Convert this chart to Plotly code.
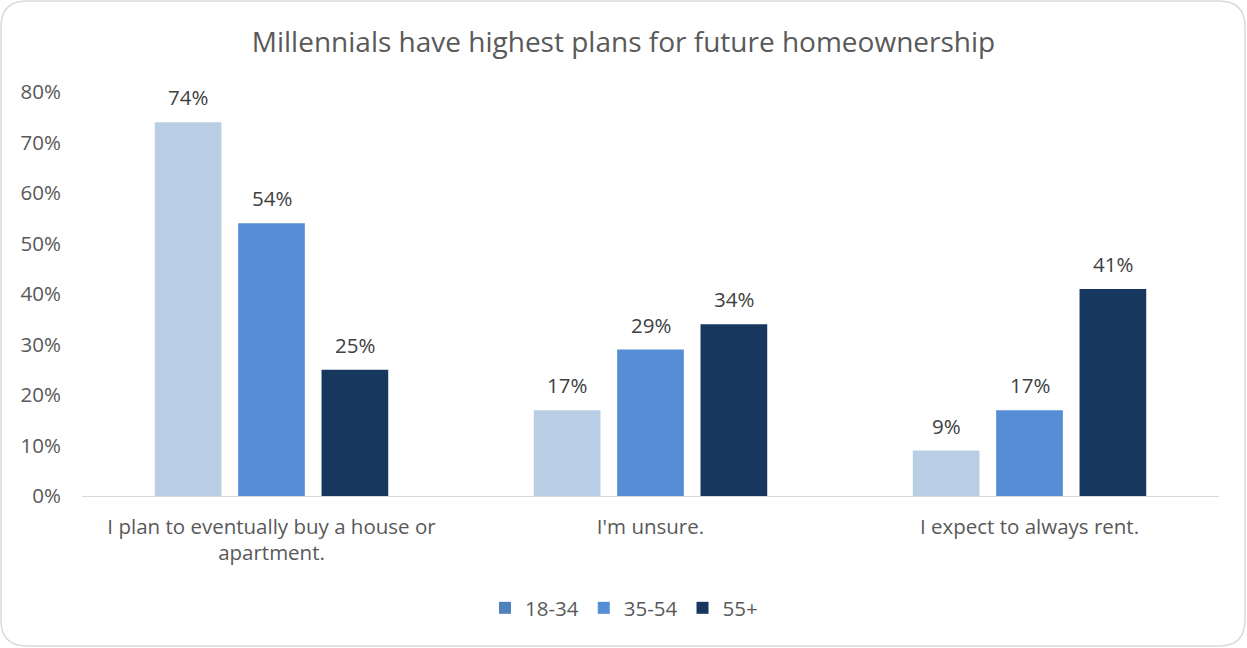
import plotly.graph_objects as go

categories = ["I plan to eventually buy a house or<br>apartment.", "I'm unsure.", "I expect to always rent."]
series_names = ["18-34", "35-54", "55+"]
values_18_34 = [74, 17, 9]
values_35_54 = [54, 29, 17]
values_55_plus = [25, 34, 41]
y_ticks = [0, 10, 20, 30, 40, 50, 60, 70, 80]
y_tick_labels = ["0%", "10%", "20%", "30%", "40%", "50%", "60%", "70%", "80%"]

bar_colors = ["#b9cde5", "#558ed5", "#17375e"]
legend_colors = ["#4f81bd", "#558ed5", "#17375e"]
FONT = "'Open Sans', sans-serif"
TXT = 20.5

W, H = 1247, 648
ml, mr, mt, mb = 82, 28, 92, 152
pw, ph = W - ml - mr, H - mt - mb
bargap, bargroupgap = 0.34, 0.2
slot_px = pw / len(categories) * (1 - bargap) / len(series_names)

fig = go.Figure()
all_series = [values_18_34, values_35_54, values_55_plus]
for i, (name, vals, color) in enumerate(zip(series_names, all_series, bar_colors)):
    fig.add_trace(go.Bar(
        x=categories, y=vals, name=name, showlegend=False,
        marker=dict(color=color, line=dict(width=0)), hoverinfo="skip",
    ))
    # value labels above each bar
    for cat, v in zip(categories, vals):
        fig.add_annotation(
            x=cat, y=v, text=f"{v}%", showarrow=False,
            xshift=(i - 1) * slot_px, yshift=25, yanchor="middle",
            font=dict(size=TXT, color="#404040", family=FONT),
        )

# Legend entries on a hidden overlay axis so they do not affect bar grouping
for name, color in zip(series_names, legend_colors):
    fig.add_trace(go.Bar(
        x=[None], y=[None], name=name, xaxis="x2", yaxis="y2",
        marker=dict(color=color, line=dict(width=0)), hoverinfo="skip",
    ))


def px_to_paper(x, y):
    return (x - ml) / pw, (H - mb - y) / ph


def P(x, y):
    px, py = px_to_paper(x, y)
    return f"{px:.5f},{py:.5f}"


# Rounded outer border
r = 26
x0, y0, x1, y1 = 1, 1, W - 2, H - 2
path = (f"M {P(x0 + r, y0)} L {P(x1 - r, y0)} Q {P(x1, y0)} {P(x1, y0 + r)} "
        f"L {P(x1, y1 - r)} Q {P(x1, y1)} {P(x1 - r, y1)} "
        f"L {P(x0 + r, y1)} Q {P(x0, y1)} {P(x0, y1 - r)} "
        f"L {P(x0, y0 + r)} Q {P(x0, y0)} {P(x0 + r, y0)} Z")
fig.add_shape(type="path", path=path, xref="paper", yref="paper",
              line=dict(color="#d9d9d9", width=1.5), layer="below")

fig.update_layout(
    width=W, height=H,
    margin=dict(l=ml, r=mr, t=mt, b=mb),
    paper_bgcolor="white", plot_bgcolor="white",
    font=dict(family=FONT, color="#595959", size=TXT),
    title=dict(text="Millennials have highest plans for future homeownership",
               x=0.5, xanchor="center", y=1 - 42 / H, yanchor="middle",
               font=dict(size=28, color="#595959", family=FONT)),
    barmode="group", bargap=bargap, bargroupgap=bargroupgap,
    showlegend=True,
    legend=dict(orientation="h", x=(624 - ml) / pw, xanchor="center",
                y=-(608 - (H - mb)) / ph, yanchor="middle",
                font=dict(size=TXT, color="#595959", family=FONT),
                itemwidth=30, traceorder="normal"),
    xaxis=dict(showgrid=False, showline=True, linecolor="#d9d9d9", linewidth=1,
               ticks="", ticklabelstandoff=12,
               tickfont=dict(size=TXT, color="#595959", family=FONT)),
    yaxis=dict(range=[0, 80], tickvals=y_ticks, ticktext=y_tick_labels,
               showgrid=False, zeroline=False, showline=False,
               ticks="", ticklabelstandoff=20,
               tickfont=dict(size=TXT, color="#595959", family=FONT)),
    xaxis2=dict(visible=False, overlaying="x"),
    yaxis2=dict(visible=False, overlaying="y", range=[0, 1]),
)

fig.write_html("out.html")
